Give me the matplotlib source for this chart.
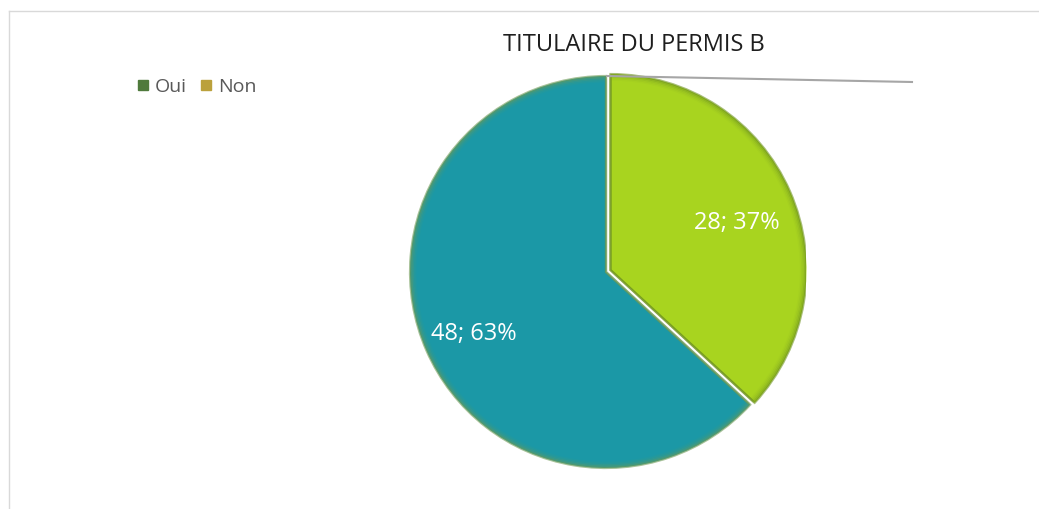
import numpy as np
import matplotlib.pyplot as plt
from matplotlib.lines import Line2D
from matplotlib.patches import Wedge

# data
categories = ["Oui", "Non"]
counts = [28, 48]
slice_colors = ["#A8D41F", "#1B98A6"]
edge_colors = ["#6F9320", "#6E9A55"]
legend_colors = ["#4F7A3C", "#BBA13C"]
title = "TITULAIRE DU PERMIS B"

# label placement (fraction of radius, angle tweak in degrees)
label_dist = [0.688, 0.745]
label_dtheta = [-3.4, 1.5]

W, H = 1039, 509
fig = plt.figure(figsize=(W / 100, H / 100), dpi=100)
fig.patch.set_facecolor("white")

# pie area: centre (606, 272) px, radius 196 px
cx, cy, r = 606, 272, 196
ax = fig.add_axes([(cx - 200) / W, (H - cy - 200) / H, 400 / W, 400 / H])

total = sum(counts)


def fmt(p):
    return f"{round(p * total / 100)}; {p:.0f}%"


wedges, texts, autotexts = ax.pie(
    counts,
    colors=slice_colors,
    startangle=90,
    counterclock=False,
    explode=[0.025, 0],
    autopct=fmt,
    textprops=dict(color="white", fontsize=17, family="Open Sans"),
    wedgeprops=dict(linewidth=0),
)

# soft darker rim on each slice
for w, ec in zip(wedges, edge_colors):
    for k, a in enumerate([0.6, 0.35, 0.2, 0.1, 0.05]):
        rim = Wedge(w.center, w.r - 0.007 * k, w.theta1, w.theta2,
                    facecolor="none", edgecolor=ec, linewidth=1.6, alpha=a)
        ax.add_patch(rim)

# move value labels
for w, t, d, dt in zip(wedges, autotexts, label_dist, label_dtheta):
    ang = np.deg2rad((w.theta1 + w.theta2) / 2 + dt)
    t.set_position((w.center[0] + d * np.cos(ang), w.center[1] + d * np.sin(ang)))

lim = 200 / r
ax.set_xlim(-lim, lim)
ax.set_ylim(-lim, lim)
ax.set_aspect("equal")
ax.axis("off")

# title
fig.text(634 / W, 1 - 45 / H, title, ha="center", va="center",
         fontsize=17, family="Open Sans", color="#1E1E1E")

# legend
handles = [Line2D([], [], marker="s", linestyle="none", markersize=7,
                  markerfacecolor=c, markeredgecolor=c) for c in legend_colors]
fig.legend(handles, categories, loc="center left",
           bbox_to_anchor=(120 / W, 1 - 87 / H), ncol=2, frameon=False,
           prop=dict(family="Open Sans", size=14), labelcolor="#595959",
           handlelength=0.6, handletextpad=0.3, columnspacing=0.7)

# leader line from the top of the pie
fig.add_artist(Line2D([607 / W, 912 / W], [1 - 76 / H, 1 - 82 / H],
                      color="#A6A6A6", linewidth=1.5))

# chart area border (top and left)
fig.add_artist(Line2D([9 / W, 1], [1 - 11 / H, 1 - 11 / H], color="#D9D9D9", linewidth=1))
fig.add_artist(Line2D([9 / W, 9 / W], [0, 1 - 11 / H], color="#D9D9D9", linewidth=1))

fig.savefig("out.png", dpi=100, facecolor="white")
